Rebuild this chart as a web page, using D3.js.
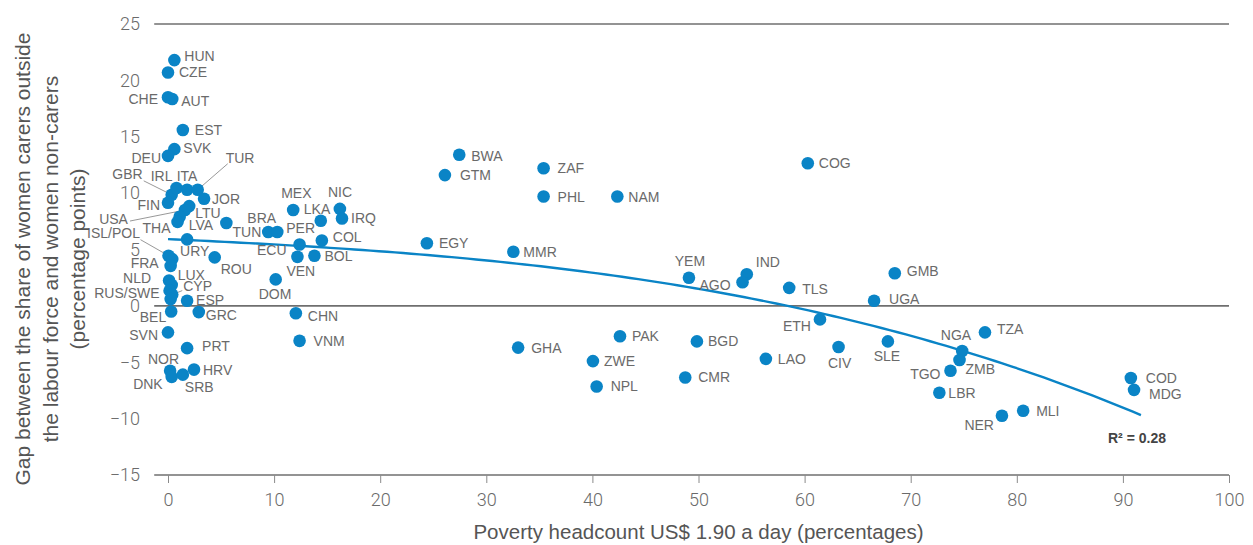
<!DOCTYPE html>
<html>
<head>
<meta charset="utf-8">
<script src="https://cdn.jsdelivr.net/npm/d3@7"></script>
<style>
  html, body { margin: 0; padding: 0; background: #fff; }
  svg { display: block; }
  text { font-family: "Liberation Sans", Arial, Helvetica, sans-serif; }
</style>
</head>
<body>
<svg id="chart" width="1253" height="545"></svg>
<script>
// Country codes, poverty headcount (x, %) and gap in labour-force share (y, percentage points)
const codes = ["HUN","CZE","CHE","AUT","EST","SVK","DEU","GBR","IRL","ITA","TUR","JOR","FIN","LTU","USA","LVA","THA","URY","ISL","POL","FRA","ROU","NLD","LUX","RUS","CYP","SWE","ESP","BEL","GRC","SVN","PRT","NOR","DNK","SRB","HRV","MEX","LKA","NIC","IRQ","BRA","TUN","PER","COL","ECU","VEN","BOL","DOM","CHN","VNM","BWA","GTM","ZAF","PHL","NAM","EGY","MMR","GHA","YEM","IND","AGO","TLS","ETH","PAK","BGD","ZWE","NPL","CMR","LAO","CIV","COG","GMB","UGA","SLE","NGA","ZMB","TGO","LBR","TZA","NER","MLI","COD","MDG"];

const poverty = [0.6,0.0,0.0,0.4,1.4,0.6,0.0,0.35,0.8,1.8,2.8,3.4,0.0,2.0,1.6,1.1,0.9,1.8,0.05,0.4,0.25,4.4,0.1,0.35,0.15,0.4,0.25,1.8,0.3,2.9,0.0,1.8,0.2,0.35,1.4,2.45,11.8,14.4,16.2,16.4,5.5,9.45,10.3,14.5,12.4,12.2,13.8,10.15,12.05,12.4,27.45,26.1,35.4,35.4,42.35,24.4,32.55,33.0,49.1,54.55,54.15,58.55,61.45,42.6,49.85,40.05,40.4,48.75,56.35,63.2,60.3,68.5,66.55,67.85,74.85,74.6,73.75,72.7,77.0,78.6,80.6,90.75,91.05];

const gap = [21.8,20.7,18.5,18.35,15.6,13.9,13.3,9.85,10.45,10.3,10.3,9.5,9.15,8.85,8.5,7.9,7.45,5.9,4.45,4.15,3.55,4.3,2.25,1.85,1.35,1.0,0.6,0.45,-0.5,-0.55,-2.35,-3.75,-5.75,-6.3,-6.1,-5.65,8.5,7.55,8.6,7.75,7.35,6.55,6.55,5.8,5.45,4.35,4.45,2.35,-0.65,-3.1,13.4,11.6,12.2,9.7,9.7,5.55,4.8,-3.7,2.5,2.8,2.1,1.6,-1.2,-2.7,-3.15,-4.9,-7.15,-6.35,-4.7,-3.65,12.65,2.9,0.45,-3.15,-4.0,-4.8,-5.75,-7.7,-2.35,-9.75,-9.3,-6.4,-7.45];

// Polynomial trendline, sampled along its length (poverty, gap)
const trendX = [0, 18.1, 21.9, 29.6, 37.0, 54.9, 58.4, 68.1, 69.1, 78.5, 91.7];
const trendY = [5.9, 5.0, 4.67, 4.17, 3.25, 0.6, -0.06, -2.19, -2.33, -5.0, -9.72];

const xTicks = [0,10,20,30,40,50,60,70,80,90,100];
const yTicks = [25,20,15,10,5,0,-5,-10,-15];
const yRuled = [25,0,-15];
const fitLabel = "R² = 0.28";
const xTitle = "Poverty headcount US$ 1.90 a day (percentages)";
const yTitle = ["Gap between the share of women carers outside","the labour force and women non-carers","(percentage points)"];

// Label placement: [text, country it sits next to, dx, dy, anchor, leader start offset]
const labelLayout = [
  ["HUN","HUN",10,-4,"start"],["CZE","CZE",11,0,"start"],["CHE","CHE",-10,2,"end"],["AUT","AUT",9,2,"start"],
  ["EST","EST",12,0,"start"],["SVK","SVK",9,-1,"start"],["DEU","DEU",-7,2,"end"],
  ["GBR","GBR",-29,-21,"end",[-28,-14]],["IRL","IRL",-4,-12,"end"],["ITA","ITA",0,-14,"middle"],
  ["TUR","TUR",28,-32,"start",[30,-26]],["JOR","JOR",8,0,"start"],["FIN","FIN",-8,2,"end"],
  ["LTU","LTU",6,7,"start"],["USA","USA",-57,9,"end",[-55,11]],["LVA","LVA",9,8,"start"],
  ["THA","THA",-7,6,"end"],["URY","URY",-7,12,"start"],["ISL/POL","ISL",-28.5,-23,"end",[-28,-16]],
  ["FRA","FRA",-12,-3,"end"],["ROU","ROU",6,12,"start"],["NLD","NLD",-18,-3,"end"],["LUX","LUX",6,-10,"start"],
  ["RUS/SWE","RUS",-10,2,"end"],["CYP","CYP",11,-9,"start",[10,-4]],["ESP","ESP",9,-1,"start"],
  ["BEL","BEL",-5,5,"end"],["GRC","GRC",7,3,"start"],["SVN","SVN",-10,3,"end"],["PRT","PRT",15,-2,"start"],
  ["NOR","NOR",9,-12,"end"],["DNK","DNK",-9,7,"end"],["SRB","SRB",2,12,"start"],["HRV","HRV",9,0,"start"],
  ["MEX","MEX",-12,-17,"start"],["LKA","LKA",-17,-12,"start"],["NIC","NIC",-12,-17,"start"],["IRQ","IRQ",9,0,"start"],
  ["BRA","BRA",21,-5,"start"],["TUN","TUN",-7,0,"end"],["PER","PER",9,-4,"start"],["COL","COL",11,-3,"start"],
  ["ECU","ECU",-13,6,"end"],["VEN","VEN",-11,14,"start"],["BOL","BOL",10,0,"start"],["DOM","DOM",-17,15,"start"],
  ["CHN","CHN",12,3,"start"],["VNM","VNM",14,0,"start"],["BWA","BWA",12,1,"start"],["GTM","GTM",15,0,"start"],
  ["ZAF","ZAF",14,0,"start"],["PHL","PHL",14,0,"start"],["NAM","NAM",11,0,"start"],["EGY","EGY",12,0,"start"],
  ["MMR","MMR",10,0,"start"],["GHA","GHA",13,0,"start"],["YEM","YEM",1,-17,"middle"],["IND","IND",9,-12,"start"],
  ["AGO","AGO",-12,3,"end"],["TLS","TLS",13,1,"start"],["ETH","ETH",-9,7,"end"],["PAK","PAK",12,0,"start"],
  ["BGD","BGD",11,0,"start"],["ZWE","ZWE",11,0,"start"],["NPL","NPL",14,0,"start"],["CMR","CMR",13,0,"start"],
  ["LAO","LAO",12,0,"start"],["CIV","CIV",1,16,"middle"],["COG","COG",11,0,"start"],["GMB","GMB",12,-2,"start"],
  ["UGA","UGA",15,-2,"start"],["SLE","SLE",-1,15,"middle"],["NGA","NGA",9,-16,"end"],["ZMB","ZMB",6,9,"start"],
  ["TGO","TGO",-10,3,"end"],["LBR","LBR",9,0,"start"],["TZA","TZA",12,-3,"start"],["NER","NER",-8,9,"end"],
  ["MLI","MLI",13,0,"start"],["COD","COD",15,0,"start"],["MDG","MDG",15,4,"start"]
];

const BLUE = "#0a84c6";
const INK = "#6a6a6a";

const svg = d3.select("#chart");
const x = d3.scaleLinear().domain([0, 100]).range([168, 1229]);
const y = d3.scaleLinear().domain([-15, 25]).range([475, 24]);

const points = codes.map((c, i) => ({ code: c, x: poverty[i], y: gap[i] }));
const byCode = new Map(points.map(p => [p.code, p]));

// Horizontal rules at 25, 0 and -15
svg.append("g").selectAll("line").data(yRuled).join("line")
  .attr("x1", x(-1.3)).attr("x2", x(100)).attr("y1", d => y(d)).attr("y2", d => y(d))
  .attr("stroke", "#6f6f6f").attr("stroke-width", d => d === 0 ? 1.6 : 1.3);

// X axis ticks and labels
const xAxis = d3.axisBottom(x).tickValues(xTicks).tickSize(8).tickPadding(10).tickFormat(d3.format("d"));
const gx = svg.append("g").attr("transform", `translate(0,${y(-15)})`).call(xAxis);
gx.select(".domain").remove();
gx.selectAll(".tick line").attr("stroke", "#8a8a8a").attr("stroke-width", 1);
gx.selectAll(".tick text").attr("fill", "#6a6a6a").style("font-family", "Roboto, 'Liberation Sans', sans-serif")
  .style("font-weight", 300).style("font-size", "18px");

// Y axis labels
const yAxis = d3.axisLeft(y).tickValues(yTicks).tickSize(0).tickPadding(0)
  .tickFormat(d => d < 0 ? "\u2212" + Math.abs(d) : d);
const gy = svg.append("g").attr("transform", `translate(140,0)`).call(yAxis);
gy.select(".domain").remove();
gy.selectAll(".tick text").attr("fill", "#6a6a6a").style("font-family", "Roboto, 'Liberation Sans', sans-serif")
  .style("font-weight", 300).style("font-size", "18px");

// Least-squares polynomial through the trendline samples
function polyFit(xs, ys, deg) {
  const m = deg + 1;
  const A = Array.from({ length: m }, () => new Array(m + 1).fill(0));
  xs.forEach((xi, i) => {
    for (let r = 0; r < m; r++) {
      for (let c = 0; c < m; c++) A[r][c] += Math.pow(xi, r + c);
      A[r][m] += ys[i] * Math.pow(xi, r);
    }
  });
  for (let i = 0; i < m; i++) {
    let p = i;
    for (let r = i + 1; r < m; r++) if (Math.abs(A[r][i]) > Math.abs(A[p][i])) p = r;
    [A[i], A[p]] = [A[p], A[i]];
    for (let r = 0; r < m; r++) {
      if (r === i) continue;
      const f = A[r][i] / A[i][i];
      for (let c = i; c <= m; c++) A[r][c] -= f * A[i][c];
    }
  }
  return A.map((row, i) => row[m] / row[i]);
}
const coef = polyFit(trendX, trendY, 3);
const evalPoly = v => coef.reduce((s, c, k) => s + c * Math.pow(v, k), 0);
const [tx0, tx1] = d3.extent(trendX);
const trend = d3.range(0, 121).map(i => {
  const xv = tx0 + (tx1 - tx0) * i / 120;
  return [xv, evalPoly(xv)];
});
svg.append("path").datum(trend)
  .attr("d", d3.line().x(d => x(d[0])).y(d => y(d[1])))
  .attr("fill", "none").attr("stroke", BLUE).attr("stroke-width", 2.4);

// Leader lines
const gLabels = svg.append("g");
gLabels.selectAll("line").data(labelLayout.filter(l => l[5])).join("line")
  .attr("x1", l => x(byCode.get(l[1]).x) + l[5][0])
  .attr("y1", l => y(byCode.get(l[1]).y) + l[5][1])
  .attr("x2", l => x(byCode.get(l[1]).x))
  .attr("y2", l => y(byCode.get(l[1]).y))
  .attr("stroke", "#8c8c8c").attr("stroke-width", 0.9);

// Points
svg.append("g").selectAll("circle").data(points).join("circle")
  .attr("cx", d => x(d.x)).attr("cy", d => y(d.y)).attr("r", 6.3)
  .attr("fill", BLUE);

// Country labels
gLabels.selectAll("text").data(labelLayout).join("text")
  .attr("x", l => x(byCode.get(l[1]).x) + l[2])
  .attr("y", l => y(byCode.get(l[1]).y) + l[3])
  .attr("text-anchor", l => l[4])
  .attr("dominant-baseline", "central")
  .attr("fill", INK).style("font-size", "14px")
  .text(l => l[0]);

// R squared note
svg.append("text").attr("x", 1108).attr("y", 438).attr("dominant-baseline", "central")
  .attr("fill", "#444").style("font-size", "14px").style("font-weight", "bold").text(fitLabel);

// Axis titles
svg.append("text").attr("x", x(50)).attr("y", 531).attr("text-anchor", "middle")
  .attr("dominant-baseline", "central").attr("fill", "#555").style("font-size", "20.5px").text(xTitle);

const yt = svg.append("text").attr("transform", "translate(50,259) rotate(-90)")
  .attr("text-anchor", "middle").attr("fill", "#555").style("font-size", "21px");
yTitle.forEach((line, i) => {
  yt.append("tspan").attr("x", 0).attr("y", (i - 1) * 27.5).attr("dominant-baseline", "central").text(line);
});
</script>
</body>
</html>
